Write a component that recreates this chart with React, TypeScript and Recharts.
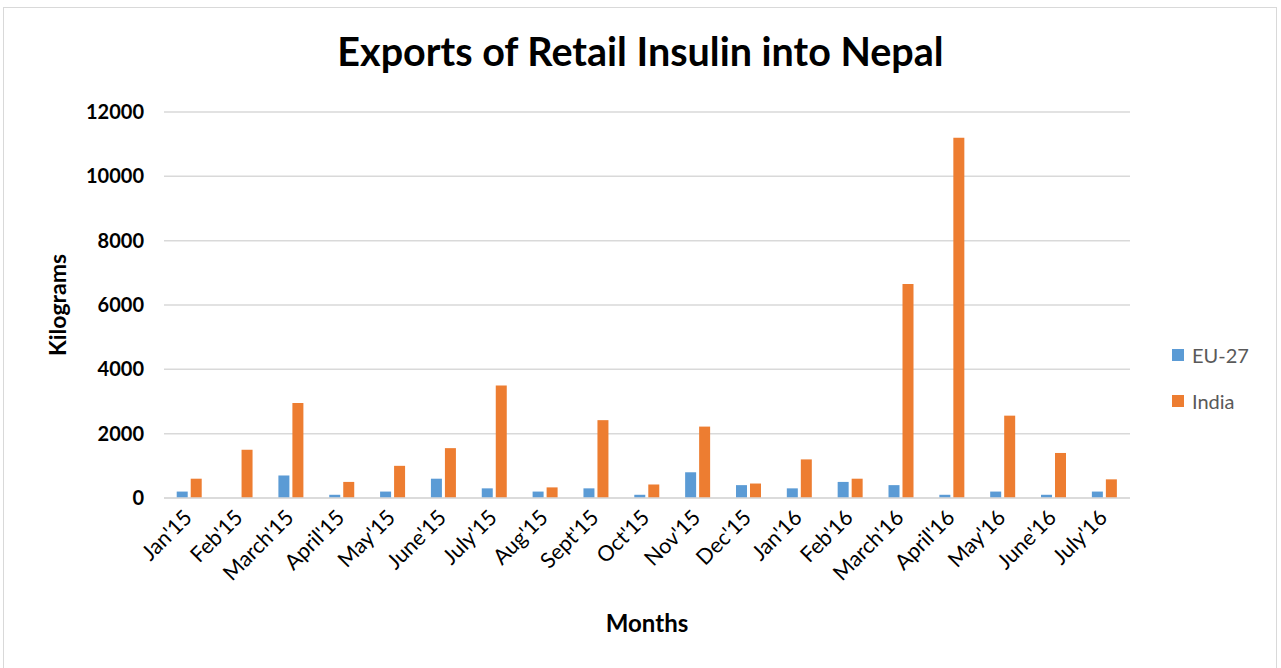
import React from 'react';
import { BarChart, Bar, XAxis, YAxis, CartesianGrid, Legend, Label } from 'recharts';

const months = [
  "Jan'15", "Feb'15", "March'15", "April'15", "May'15", "June'15", "July'15", "Aug'15",
  "Sept'15", "Oct'15", "Nov'15", "Dec'15", "Jan'16", "Feb'16", "March'16", "April'16",
  "May'16", "June'16", "July'16",
];
const eu27 = [200, 0, 700, 100, 200, 600, 300, 200, 300, 100, 800, 400, 300, 500, 400, 100, 200, 100, 200];
const india = [600, 1500, 2950, 500, 1000, 1550, 3500, 330, 2420, 420, 2220, 450, 1200, 600, 6650, 11200, 2560, 1400, 580];
const yTicks = [0, 2000, 4000, 6000, 8000, 10000, 12000];

const data = months.map((m, i) => ({ month: m, eu: eu27[i], india: india[i] }));

const FONT = 'Lato, "Open Sans", sans-serif';

function MonthTick(props: any) {
  const { x, y, payload } = props;
  return (
    <g transform={`translate(${x - 6},${y + 3})`}>
      <text
        x={0}
        y={0}
        dy={14}
        textAnchor="end"
        transform="rotate(-45)"
        fontSize={21.5}
        fontFamily={FONT}
        fill="#000"
      >
        {payload.value}
      </text>
    </g>
  );
}

function LegendBox(props: any) {
  const items = props.payload || [];
  return (
    <div style={{ fontFamily: FONT, fontSize: 20, color: '#595959' }}>
      {items.map((it: any) => (
        <div key={it.value} style={{ display: 'flex', alignItems: 'center', height: 46 }}>
          <span style={{ width: 12, height: 12, background: it.color, display: 'inline-block', marginRight: 8 }} />
          <span>{it.value}</span>
        </div>
      ))}
    </div>
  );
}

export default function App() {
  return (
    <div style={{ position: 'absolute', left: 0, top: 0, width: 1281, height: 668, background: '#fff' }}>
      <div
        style={{
          position: 'absolute', left: 3, top: 7, width: 1274, height: 670,
          border: '1px solid #d9d9d9', boxSizing: 'border-box',
        }}
      />
      <div
        style={{
          position: 'absolute', left: 0, top: 27, width: 1281, textAlign: 'center',
          fontFamily: FONT, fontWeight: 700, fontSize: 39.5, color: '#000',
        }}
      >
        Exports of Retail Insulin into Nepal
      </div>
      <div style={{ position: 'absolute', left: 0, top: 0 }}>
        <BarChart
          width={1281}
          height={668}
          data={data}
          margin={{ top: 112, right: 41, bottom: 20, left: 0 }}
          barCategoryGap="25%"
          barGap={3}
        >
          <CartesianGrid vertical={false} stroke="#d9d9d9" strokeWidth={1.5} />
          <XAxis
            dataKey="month"
            interval={0}
            height={150}
            tick={<MonthTick />}
            tickLine={false}
            axisLine={{ stroke: '#d9d9d9', strokeWidth: 1.5 }}
          >
            <Label
              value="Months"
              position="insideBottom"
              offset={16}
              style={{ fontFamily: FONT, fontWeight: 700, fontSize: 24, fill: '#000' }}
            />
          </XAxis>
          <YAxis
            width={164}
            domain={[0, 12000]}
            ticks={yTicks}
            tickLine={false}
            axisLine={false}
            tickMargin={14}
            tick={{ fontFamily: FONT, fontWeight: 700, fontSize: 20, fill: '#000' }}
          >
            <Label
              value="Kilograms"
              angle={-90}
              position="insideLeft"
              offset={58}
              style={{ textAnchor: 'middle', fontFamily: FONT, fontWeight: 700, fontSize: 23, fill: '#000' }}
            />
          </YAxis>
          <Legend
            layout="horizontal"
            verticalAlign="middle"
            align="right"
            content={<LegendBox />}
            wrapperStyle={{ position: 'absolute', left: 1172, top: 332, width: 110 }}
          />
          <Bar dataKey="eu" name="EU-27" fill="#5b9bd5" isAnimationActive={false} />
          <Bar dataKey="india" name="India" fill="#ed7d31" isAnimationActive={false} />
        </BarChart>
      </div>
    </div>
  );
}
